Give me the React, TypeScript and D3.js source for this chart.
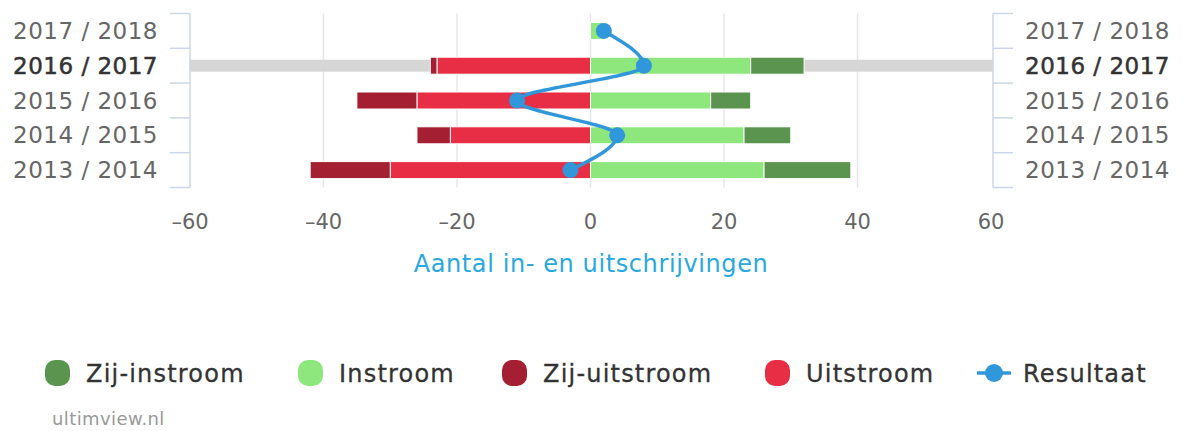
import React from "react";
import * as d3 from "d3";

// categories top to bottom
const categories = ["2017 / 2018", "2016 / 2017", "2015 / 2016", "2014 / 2015", "2013 / 2014"];
const instroom = [2, 24, 18, 23, 26];
const zijInstroom = [0, 8, 6, 7, 13];
const uitstroom = [0, 23, 26, 21, 30];
const zijUitstroom = [0, 1, 9, 5, 12];
const resultaat = [2, 8, -11, 4, -3];
const xTicks = [-60, -40, -20, 0, 20, 40, 60];
const highlighted = "2016 / 2017";

const legendItems = [
  { name: "Zij-instroom", color: "#5b944e", type: "bar", x: 45 },
  { name: "Instroom", color: "#8de77d", type: "bar", x: 298 },
  { name: "Zij-uitstroom", color: "#a31f31", type: "bar", x: 502 },
  { name: "Uitstroom", color: "#e82e44", type: "bar", x: 765 },
  { name: "Resultaat", color: "#3098da", type: "line", x: 977 },
];

const W = 1183;
const H = 431;
const FONT = "'DejaVu Sans', sans-serif";

export default function App() {
  const x = d3.scaleLinear().domain([-60, 60]).range([190, 991]);
  const y = d3.scaleBand().domain(categories).range([13.5, 187.5]);
  const barH = 17;

  const line = d3
    .line<number>()
    .x((d) => x(d))
    .y((_, i) => y(categories[i])! + y.bandwidth() / 2)
    .curve(d3.curveMonotoneY);

  const segs: { x0: number; x1: number; color: string; cat: string }[] = [];
  categories.forEach((c, i) => {
    segs.push({ x0: 0, x1: instroom[i], color: "#8de77d", cat: c });
    segs.push({ x0: instroom[i], x1: instroom[i] + zijInstroom[i], color: "#5b944e", cat: c });
    segs.push({ x0: 0, x1: -uitstroom[i], color: "#e82e44", cat: c });
    segs.push({ x0: -uitstroom[i], x1: -uitstroom[i] - zijUitstroom[i], color: "#a31f31", cat: c });
  });

  const [top, bottom] = y.range();

  return (
    <svg width={W} height={H} style={{ position: "absolute", left: 0, top: 0, background: "#fff" }} fontFamily={FONT}>
      {/* grid */}
      {xTicks.filter((t) => t > -60 && t < 60).map((t) => (
        <line key={t} x1={x(t)} x2={x(t)} y1={top} y2={bottom} stroke="#e6e6e6" strokeWidth={1.5} />
      ))}
      {/* highlight band */}
      <rect x={x(-60)} y={y(highlighted)! + y.bandwidth() / 2 - 6} width={x(60) - x(-60) + 2} height={12} fill="#d6d6d6" />
      {/* bars */}
      {segs.filter((s) => s.x0 !== s.x1).map((s, i) => (
        <rect
          key={i}
          x={Math.min(x(s.x0), x(s.x1))}
          y={y(s.cat)! + y.bandwidth() / 2 - barH / 2}
          width={Math.abs(x(s.x1) - x(s.x0))}
          height={barH}
          fill={s.color}
          stroke="#fff"
          strokeWidth={1}
        />
      ))}
      {/* axes */}
      <line x1={190} x2={190} y1={top} y2={bottom} stroke="#ccd6eb" strokeWidth={1.5} />
      <line x1={993} x2={993} y1={top} y2={bottom} stroke="#ccd6eb" strokeWidth={1.5} />
      {d3.range(categories.length + 1).map((i) => {
        const yy = top + i * y.step();
        return (
          <g key={i}>
            <line x1={170} x2={190} y1={yy} y2={yy} stroke="#ccd6eb" strokeWidth={1.5} />
            <line x1={993} x2={1013} y1={yy} y2={yy} stroke="#ccd6eb" strokeWidth={1.5} />
          </g>
        );
      })}
      {categories.map((c) => {
        const hl = c === highlighted;
        const cy = y(c)! + y.bandwidth() / 2 + 8;
        const st = {
          fontSize: 23,
          fill: hl ? "#333" : "#666",
          stroke: hl ? "#333" : "none",
          strokeWidth: hl ? 0.5 : 0,
          letterSpacing: 0.5,
        } as any;
        return (
          <g key={c}>
            <text x={158} y={cy} textAnchor="end" style={st}>{c}</text>
            <text x={1025} y={cy} textAnchor="start" style={st}>{c}</text>
          </g>
        );
      })}
      {xTicks.map((t) => (
        <text key={t} x={x(t)} y={229} textAnchor="middle" fontSize={21} fill="#666">
          {t < 0 ? "–" + Math.abs(t) : t}
        </text>
      ))}
      <text x={591} y={272} textAnchor="middle" fontSize={24} fill="#29a8df" letterSpacing={0.6}>
        Aantal in- en uitschrijvingen
      </text>
      {/* line series */}
      <path d={line(resultaat) || ""} fill="none" stroke="#3098da" strokeWidth={3.5} />
      {resultaat.map((v, i) => (
        <circle key={i} cx={x(v)} cy={y(categories[i])! + y.bandwidth() / 2} r={8} fill="#3098da" />
      ))}
      {/* legend */}
      {legendItems.map((d) => (
        <g key={d.name}>
          {d.type === "bar" ? (
            <rect x={d.x} y={360} width={25} height={26} rx={10} fill={d.color} />
          ) : (
            <g>
              <line x1={d.x} x2={d.x + 34} y1={373} y2={373} stroke={d.color} strokeWidth={3.5} />
              <circle cx={d.x + 17} cy={373} r={9} fill={d.color} />
            </g>
          )}
          <text
            x={d.x + (d.type === "bar" ? 41 : 46)}
            y={382}
            fontSize={24}
            fill="#333"
            stroke="#333"
            strokeWidth={0.3}
            letterSpacing={1.2}
          >
            {d.name}
          </text>
        </g>
      ))}
      <text x={52} y={425} fontSize={18} fill="#999" letterSpacing={0.4}>ultimview.nl</text>
    </svg>
  );
}
